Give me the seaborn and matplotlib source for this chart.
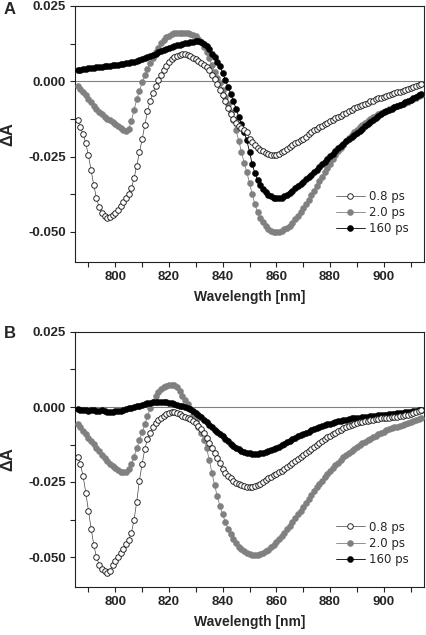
import numpy as np
import pandas as pd
import seaborn as sns
import matplotlib
matplotlib.use("Agg")
import matplotlib.pyplot as plt
from matplotlib.ticker import MultipleLocator, FormatStrFormatter

# ---------------- data (mOD) ----------------
wavelength = np.arange(786, 915)  # nm, 1 nm grid

A_08 = [-12.8, -15.1, -17.5, -20.5, -24.6, -29.5, -34.5, -38.8, -41.8, -43.6,
        -44.7, -45.3, -45.2, -44.5, -43.6, -42.6, -41.5, -40.2, -38.8, -37.3,
        -35.5, -32.2, -28.0, -23.6, -19.3, -14.6, -9.9, -6.5, -3.9, -1.6,
        0.3, 2.2, 3.8, 5.2, 6.3, 7.3, 8.0, 8.5, 8.8, 9.0,
        9.0, 8.7, 8.3, 7.8, 7.3, 6.8, 6.2, 5.5, 4.6, 3.9,
        2.2, 0.6, -1.0, -2.8, -4.5, -6.6, -8.8, -10.9, -12.6, -13.8,
        -14.8, -15.6, -16.3, -16.9, -19.0, -20.2, -21.2, -22.0, -22.7, -23.3,
        -23.8, -24.2, -24.4, -24.5, -24.5, -24.0, -23.5, -23.0, -22.4, -21.8,
        -21.1, -20.5, -20.0, -19.5, -19.0, -18.4, -17.6, -17.0, -16.3, -15.7,
        -15.2, -14.7, -14.2, -13.7, -13.2, -12.7, -12.3, -11.8, -11.4, -10.9,
        -10.4, -10.0, -9.5, -9.0, -8.6, -8.3, -7.9, -7.5, -7.1, -6.7,
        -6.4, -6.0, -5.7, -5.4, -5.1, -4.8, -4.5, -4.2, -3.9, -3.6,
        -3.4, -3.1, -2.8, -2.5, -2.2, -1.9, -1.6, -1.3, -1.0]

A_20 = [-1.6, -2.6, -3.6, -4.7, -5.8, -6.9, -8.3, -9.3, -10.1, -10.9,
        -11.7, -12.4, -13.0, -13.6, -14.3, -14.9, -15.6, -16.3, -16.6, -15.8,
        -13.2, -9.5, -6.0, -3.2, -0.4, 2.0, 4.2, 6.0, 7.9, 9.8,
        11.2, 12.6, 13.8, 14.6, 15.2, 15.6, 15.9, 16.0, 16.0, 16.0,
        16.0, 15.9, 15.6, 15.3, 14.9, 14.2, 13.0, 11.4, 9.7, 7.6,
        5.3, 3.2, 1.1, -0.7, -3.0, -5.2, -7.6, -10.1, -12.9, -16.3,
        -19.8, -23.4, -27.0, -30.2, -33.7, -37.5, -40.8, -43.5, -45.3, -46.8,
        -48.2, -49.2, -49.7, -50.0, -50.0, -49.9, -49.6, -49.2, -48.7, -47.9,
        -47.0, -45.8, -44.6, -43.4, -42.1, -40.7, -39.3, -37.8, -36.3, -34.8,
        -33.2, -31.7, -30.2, -28.7, -27.3, -25.9, -24.6, -23.3, -22.1, -21.0,
        -19.9, -18.8, -17.8, -16.9, -16.1, -15.3, -14.6, -13.9, -13.2, -12.6,
        -12.0, -11.5, -11.0, -10.5, -10.1, -9.7, -9.3, -8.9, -8.6, -8.3,
        -8.0, -7.6, -7.2, -6.8, -6.3, -5.9, -5.4, -5.0, -4.6]

A_160 = [3.6, 3.8, 4.0, 4.2, 4.3, 4.4, 4.5, 4.6, 4.8, 4.9,
         5.0, 5.1, 5.2, 5.3, 5.4, 5.5, 5.6, 5.8, 6.0, 6.1,
         6.3, 6.5, 6.8, 7.0, 7.3, 7.6, 8.0, 8.4, 8.8, 9.2,
         9.6, 9.9, 10.3, 10.7, 11.0, 11.3, 11.6, 11.9, 12.1, 12.4,
         12.6, 12.8, 13.0, 13.2, 13.3, 13.3, 13.1, 12.5, 11.6, 10.6,
         9.2, 8.0, 6.5, 5.0, 2.8, 0.5, -1.9, -4.2, -6.6, -9.2,
         -11.8, -14.3, -17.0, -19.6, -23.4, -27.5, -30.5, -32.7, -34.5, -35.8,
         -36.8, -37.6, -38.2, -38.6, -38.8, -38.8, -38.6, -38.2, -37.6, -37.0,
         -36.3, -35.5, -34.7, -34.0, -33.3, -32.5, -31.8, -31.0, -30.1, -29.3,
         -28.5, -27.6, -26.7, -25.8, -24.9, -24.0, -23.1, -22.3, -21.5, -20.7,
         -19.9, -19.2, -18.5, -17.8, -17.1, -16.4, -15.7, -15.0, -14.2, -13.5,
         -12.8, -12.1, -11.4, -10.8, -10.3, -9.9, -9.5, -9.1, -8.7, -8.3,
         -7.9, -7.5, -7.0, -6.6, -6.1, -5.6, -5.1, -4.6, -4.1]

B_08 = [-16.5, -19.0, -23.0, -28.5, -34.5, -40.5, -46.0, -50.0, -52.5, -54.0,
        -54.8, -55.2, -54.5, -52.8, -51.3, -50.0, -48.6, -47.2, -45.8, -44.2,
        -42.0, -37.6, -31.5, -24.5, -19.0, -14.0, -10.7, -8.5, -6.5, -5.2,
        -4.3, -3.5, -2.9, -2.3, -2.0, -1.8, -1.8, -2.0, -2.4, -2.9,
        -3.3, -3.7, -4.1, -4.6, -5.3, -6.2, -7.3, -8.6, -10.3, -12.1,
        -13.8, -15.4, -17.0, -18.8, -20.5, -22.0, -23.0, -23.8, -24.5, -25.2,
        -25.7, -26.1, -26.4, -26.6, -26.7, -26.6, -26.3, -26.0, -25.5, -25.0,
        -24.3, -23.7, -23.2, -22.7, -22.2, -21.7, -21.2, -20.6, -20.0, -19.4,
        -18.8, -18.1, -17.4, -16.7, -16.0, -15.3, -14.6, -13.9, -13.2, -12.6,
        -12.0, -11.4, -10.7, -10.1, -9.5, -9.0, -8.5, -8.0, -7.5, -7.0,
        -6.6, -6.2, -5.9, -5.6, -5.3, -5.1, -4.9, -4.7, -4.5, -4.3,
        -4.2, -4.0, -3.9, -3.8, -3.7, -3.6, -3.5, -3.4, -3.3, -3.2,
        -3.1, -3.0, -2.8, -2.6, -2.3, -2.0, -1.7, -1.4, -1.1]

B_20 = [-5.7, -6.8, -7.9, -9.0, -10.2, -11.3, -12.4, -13.6, -14.8, -15.9,
        -17.0, -18.0, -18.9, -19.7, -20.4, -21.0, -21.6, -21.8, -21.5, -20.6,
        -19.0, -16.5, -13.8, -11.0, -8.3, -5.6, -2.9, -0.4, 1.8, 3.6,
        5.0, 6.0, 6.7, 7.1, 7.3, 7.4, 7.3, 6.7, 5.3, 3.8,
        2.4, 0.9, -0.8, -2.6, -4.5, -6.5, -8.6, -11.0, -13.8, -17.5,
        -22.0, -26.0, -29.8, -33.0, -35.8, -38.3, -40.5, -42.4, -44.0, -45.4,
        -46.5, -47.4, -48.1, -48.6, -49.0, -49.2, -49.3, -49.2, -49.0, -48.6,
        -48.1, -47.5, -46.8, -46.0, -45.1, -44.1, -43.1, -42.0, -40.8, -39.6,
        -38.4, -37.1, -35.8, -34.5, -33.2, -31.9, -30.6, -29.3, -28.0, -26.8,
        -25.6, -24.5, -23.4, -22.3, -21.3, -20.3, -19.4, -18.5, -17.6, -16.8,
        -16.0, -15.3, -14.6, -13.9, -13.3, -12.7, -12.1, -11.5, -11.0, -10.5,
        -10.0, -9.5, -9.0, -8.6, -8.2, -7.8, -7.4, -7.1, -6.8, -6.5,
        -6.2, -5.9, -5.6, -5.3, -5.0, -4.7, -4.4, -4.1, -3.8]

B_160 = [-0.6, -0.9, -1.1, -1.0, -1.3, -1.1, -1.0, -1.2, -1.3, -1.1,
         -1.4, -1.6, -1.5, -1.7, -1.4, -1.2, -1.4, -1.0, -0.6, -0.4,
         -0.2, 0.1, 0.3, 0.5, 0.7, 1.0, 1.2, 1.5, 1.7, 1.6,
         1.8, 1.7, 1.8, 1.6, 1.5, 1.2, 1.0, 0.8, 0.5, 0.2,
         0.0, -0.4, -0.8, -1.3, -1.9, -2.6, -3.3, -4.2, -5.0, -6.0,
         -6.8, -7.6, -8.3, -9.0, -9.8, -10.6, -11.4, -12.2, -12.9, -13.5,
         -14.0, -14.5, -14.9, -15.2, -15.4, -15.6, -15.6, -15.5, -15.4, -15.2,
         -15.0, -14.7, -14.4, -14.0, -13.6, -13.2, -12.8, -12.3, -11.8, -11.3,
         -10.8, -10.3, -9.8, -9.4, -9.0, -8.6, -8.2, -7.8, -7.4, -7.0,
         -6.7, -6.4, -6.1, -5.8, -5.5, -5.2, -5.0, -4.8, -4.6, -4.4,
         -4.2, -4.0, -3.8, -3.7, -3.6, -3.5, -3.4, -3.3, -3.2, -3.1,
         -3.0, -2.9, -2.8, -2.7, -2.6, -2.5, -2.4, -2.3, -2.2, -2.1,
         -2.0, -1.9, -1.8, -1.6, -1.5, -1.3, -1.2, -1.1, -1.0]

series_labels = ["0.8 ps", "2.0 ps", "160 ps"]
panel_letters = ["A", "B"]
x_ticks = [800, 820, 840, 860, 880, 900]
y_ticks = [-0.050, -0.025, 0.000, 0.025]

# ---------------- styling ----------------
sns.set_style("ticks")
plt.rcParams["font.family"] = ["Liberation Sans", "DejaVu Sans"]
plt.rcParams["axes.unicode_minus"] = False

GRAY = "#808080"
styles = {
    "0.8 ps": dict(color="#444444", marker="o", markerfacecolor="white",
                   markeredgecolor="#1a1a1a", markeredgewidth=0.65,
                   markersize=4.0, linewidth=0.5, zorder=5),
    "2.0 ps": dict(color=GRAY, marker="o", markerfacecolor=GRAY,
                   markeredgecolor=GRAY, markeredgewidth=0.3,
                   markersize=4.4, linewidth=0.6, zorder=3),
    "160 ps": dict(color="black", marker="o", markerfacecolor="black",
                   markeredgecolor="black", markeredgewidth=0.3,
                   markersize=4.4, linewidth=0.6, zorder=4),
}

fig = plt.figure(figsize=(4.26, 6.35), dpi=100)
axA = fig.add_axes([75 / 426, 1 - 262 / 635, 349 / 426, 256 / 635])
axB = fig.add_axes([75 / 426, 1 - 587 / 635, 349 / 426, 255 / 635])

panels = [
    (axA, [A_08, A_20, A_160], 0.193),
    (axB, [B_08, B_20, B_160], 0.171),
]

for (ax, data, leg_y), letter in zip(panels, panel_letters):
    df = pd.DataFrame({"wavelength": wavelength})
    for lab, vals in zip(series_labels, data):
        df[lab] = np.asarray(vals) / 1000.0
    handles = {}
    for lab in ["2.0 ps", "160 ps", "0.8 ps"]:
        sns.lineplot(data=df, x="wavelength", y=lab, ax=ax, label=lab,
                     sort=False, estimator=None, legend=False, **styles[lab])
        handles[lab] = ax.lines[-1]
    ax.axhline(0, color=GRAY, lw=0.8, zorder=1)

    ax.set_xlim(785, 915)
    ax.set_ylim(-0.060, 0.025)
    ax.set_xticks(x_ticks)
    ax.xaxis.set_minor_locator(MultipleLocator(10))
    ax.set_yticks(y_ticks)
    ax.yaxis.set_minor_locator(MultipleLocator(0.0125))
    ax.yaxis.set_major_formatter(FormatStrFormatter("%.3f"))
    ax.tick_params(which="both", direction="out", length=3.5, width=0.8,
                   color="#222222")
    ax.tick_params(which="major", labelsize=9.5, pad=3)
    for t in ax.get_xticklabels() + ax.get_yticklabels():
        t.set_fontweight("bold")
    for sp in ax.spines.values():
        sp.set_visible(True)
        sp.set_linewidth(0.8)
        sp.set_color("#222222")

    ax.set_xlabel("Wavelength [nm]", fontsize=10, fontweight="bold")
    ax.set_ylabel("ΔA", fontsize=12, fontweight="bold")
    ax.yaxis.set_label_coords(-0.17, 0.5)
    ax.xaxis.set_label_coords(0.5, -0.11)

    leg = ax.legend([handles[l] for l in series_labels], series_labels,
                    loc="center left", bbox_to_anchor=(0.725, leg_y),
                    frameon=False, handlelength=2.4, handletextpad=0.4,
                    labelspacing=0.28, borderpad=0.2,
                    prop={"family": "DejaVu Sans", "size": 8.5})

fig.text(4 / 426, 1 - 10 / 635, "A", fontsize=12, fontweight="bold",
         ha="left", va="center")
fig.text(4 / 426, 1 - 333 / 635, "B", fontsize=12, fontweight="bold",
         ha="left", va="center")

fig.savefig("out.png", dpi=100)
